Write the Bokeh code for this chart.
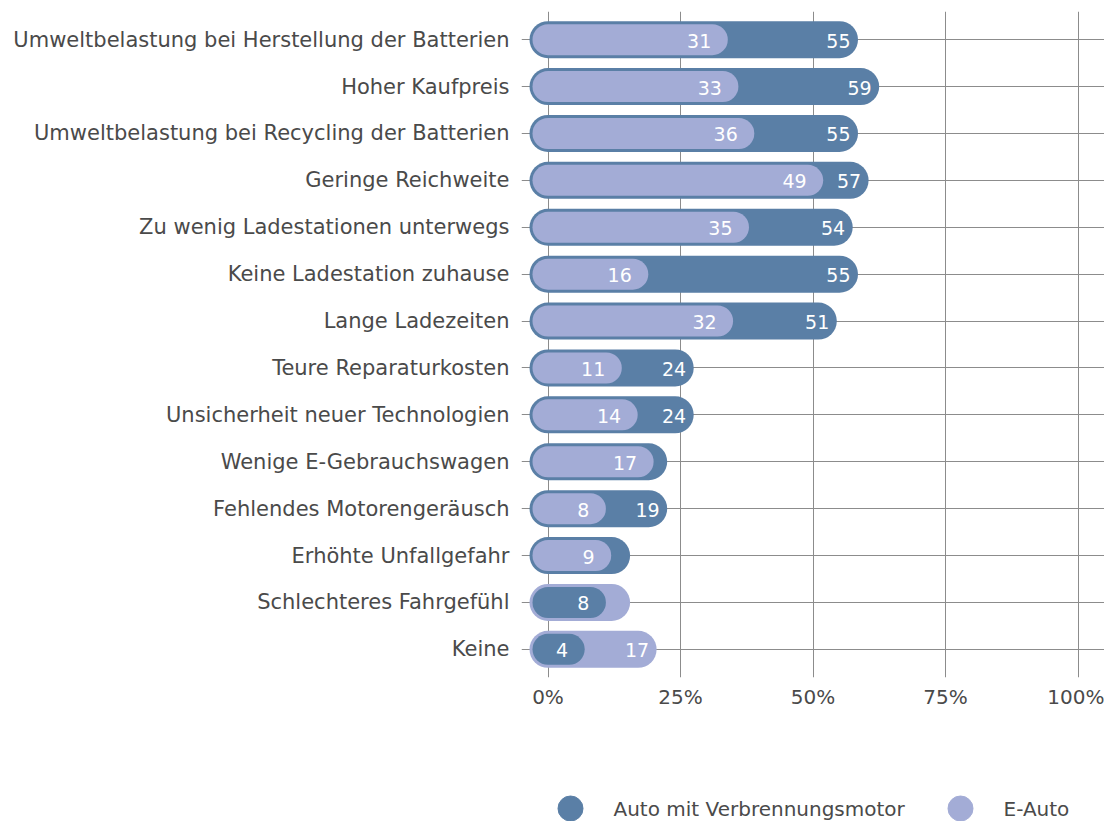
from bokeh.plotting import figure
from bokeh.layouts import column
from bokeh.models import ColumnDataSource, FixedTicker, Range1d
from bokeh.core.properties import value
from bokeh.embed import file_html
from bokeh.resources import INLINE

categories = [
    "Umweltbelastung bei Herstellung der Batterien",
    "Hoher Kaufpreis",
    "Umweltbelastung bei Recycling der Batterien",
    "Geringe Reichweite",
    "Zu wenig Ladestationen unterwegs",
    "Keine Ladestation zuhause",
    "Lange Ladezeiten",
    "Teure Reparaturkosten",
    "Unsicherheit neuer Technologien",
    "Wenige E-Gebrauchswagen",
    "Fehlendes Motorengeräusch",
    "Erhöhte Unfallgefahr",
    "Schlechteres Fahrgefühl",
    "Keine",
]
verbrenner = [55, 59, 55, 57, 54, 55, 51, 24, 24, 19, 19, 12, 8, 4]
e_auto = [31, 33, 36, 49, 35, 16, 32, 11, 14, 17, 8, 9, 12, 17]
x_ticks = [0, 25, 50, 75, 100]
x_tick_labels = ["0%", "25%", "50%", "75%", "100%"]
series_names = ["Auto mit Verbrennungsmotor", "E-Auto"]
series_colors = ["#5a7fa6", "#a3acd6"]

FONT = "DejaVu Sans"
TEXT_COLOR = "#4a4a4a"
GRID_COLOR = "#8c8c8c"

LEFT = 521       # left border (room for category labels)
FRAME_W = 583

n = len(categories)
rows = list(range(n))
outer, inner, ocol, icol, olbl, ilbl = [], [], [], [], [], []
for v, e in zip(verbrenner, e_auto):
    if v >= e:
        o, i, oc, ic = v, e, series_colors[0], series_colors[1]
    else:
        o, i, oc, ic = e, v, series_colors[1], series_colors[0]
    outer.append(o)
    inner.append(i)
    ocol.append(oc)
    icol.append(ic)
    olbl.append(str(o) if o - i >= 5 else "")
    ilbl.append(str(i))

src = ColumnDataSource(dict(y=rows, zero=[0] * n, outer=outer, inner=inner,
                            ocol=ocol, icol=icol, olbl=olbl, ilbl=ilbl))

p = figure(frame_width=FRAME_W, frame_height=666,
           x_range=Range1d(-5, 105), y_range=Range1d(n - 0.4, -0.6),
           output_backend="svg", toolbar_location=None,
           min_border_left=LEFT, min_border_top=11, min_border_right=0,
           min_border_bottom=63)
p.outline_line_color = None
p.background_fill_color = "white"
p.border_fill_color = "white"

p.xaxis.ticker = FixedTicker(ticks=x_ticks)
p.xaxis.major_label_overrides = {t: l for t, l in zip(x_ticks, x_tick_labels)}
p.yaxis.ticker = FixedTicker(ticks=rows)
p.yaxis.major_label_overrides = {r: c for r, c in zip(rows, categories)}
for g in (p.xgrid, p.ygrid):
    g.grid_line_color = GRID_COLOR
    g.grid_line_width = 1
for ax in (p.xaxis, p.yaxis):
    ax.axis_line_color = None
    ax.major_tick_line_color = None
    ax.minor_tick_line_color = None
    ax.major_tick_in = 0
    ax.major_tick_out = 0
    ax.major_label_text_font = FONT
    ax.major_label_text_color = TEXT_COLOR
p.xaxis.major_label_text_font_size = "20px"
p.yaxis.major_label_text_font_size = "21px"
p.xaxis.major_label_standoff = 7
p.yaxis.major_label_standoff = 12

p.segment(x0="zero", y0="y", x1="outer", y1="y", line_width=37, line_color="ocol",
          line_cap="round", source=src)
p.segment(x0="zero", y0="y", x1="inner", y1="y", line_width=31, line_color="icol",
          line_cap="round", source=src)

p.text(x="outer", y="y", text="olbl", text_align="right", text_baseline="middle",
       x_offset=11, y_offset=1, text_color="white", text_font=value(FONT),
       text_font_size="19px", source=src)
p.text(x="inner", y="y", text="ilbl", text_align="right", text_baseline="middle",
       x_offset=-1, y_offset=1, text_color="white", text_font=value(FONT),
       text_font_size="19px", source=src)

# legend strip (its own small figure below the chart; x in page pixels)
legend_marker_x = [570, 960]
legend_h = 81
p2 = figure(frame_width=FRAME_W, frame_height=legend_h,
            x_range=Range1d(LEFT, LEFT + FRAME_W), y_range=Range1d(0, legend_h),
            output_backend="svg", toolbar_location=None,
            min_border_left=LEFT, min_border_right=0, min_border_top=0, min_border_bottom=0)
p2.axis.visible = False
p2.grid.visible = False
p2.outline_line_color = None
p2.background_fill_color = "white"
p2.border_fill_color = "white"

lsrc = ColumnDataSource(dict(x=legend_marker_x, y=[13] * len(series_names),
                             color=series_colors, name=series_names))
p2.scatter(x="x", y="y", marker="circle", size=25, fill_color="color",
           line_color="color", source=lsrc)
p2.text(x="x", y="y", text="name", x_offset=43, text_align="left",
        text_baseline="middle", text_color=TEXT_COLOR, text_font=value(FONT),
        text_font_size="20px", source=lsrc)

open("out.html", "w").write(file_html(column(p, p2, spacing=0), INLINE))
